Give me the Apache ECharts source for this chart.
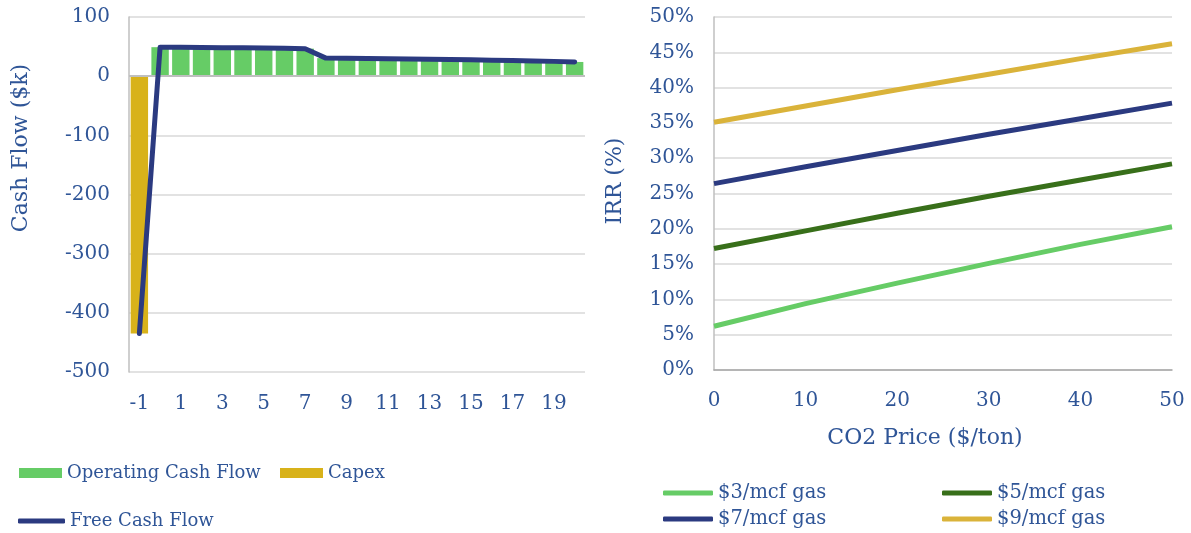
<!DOCTYPE html>
<html>
<head>
<meta charset="utf-8">
<script src="https://cdn.jsdelivr.net/npm/echarts@6/dist/echarts.min.js"></script>
<style>
  html, body { margin: 0; padding: 0; background: #ffffff; }
  #chart { width: 1191px; height: 533px; }
</style>
</head>
<body>
<div id="chart"></div>
<script>
// ---- Project cash flow by year ($k) ----
const years = ['-1','0','1','2','3','4','5','6','7','8','9','10','11','12','13','14','15','16','17','18','19','20'];
const operatingCashFlow = [null, 49, 48.8, 48.5, 48.2, 48, 47.7, 47.3, 46.5, 30.5, 30.2, 30, 29.5, 29, 28.5, 28, 27.6, 27, 26.5, 25.8, 25, 24];
const capex = [-435, null, null, null, null, null, null, null, null, null, null, null, null, null, null, null, null, null, null, null, null, null];
const freeCashFlow = [-435, 49, 48.8, 48.5, 48.2, 48, 47.7, 47.3, 46.5, 30.5, 30.2, 30, 29.5, 29, 28.5, 28, 27.6, 27, 26.5, 25.8, 25, 24];

// ---- IRR (%) against CO2 price ($/ton), one line per gas price ----
const co2Prices = [0, 10, 20, 30, 40, 50];
const irrGas3 = [6.2, 9.4, 12.3, 15.1, 17.8, 20.3];
const irrGas5 = [17.2, 19.7, 22.2, 24.6, 26.9, 29.2];
const irrGas7 = [26.4, 28.8, 31.1, 33.4, 35.6, 37.8];
const irrGas9 = [35.1, 37.4, 39.7, 41.9, 44.1, 46.2];

const TEXT = '#2f5597';
const FONT = 'DejaVu Serif';
const GRID = '#d9d9d9';
const TICK_SIZE = 20;
const TITLE_FONT = '22px "DejaVu Serif"';

const pairs = (xs, ys) => xs.map((x, i) => [x, ys[i]]);

const chart = echarts.init(document.getElementById('chart'), null, { renderer: 'canvas' });

const leftLegendText = { color: TEXT, fontFamily: FONT, fontSize: 18 };
const rightLegendText = { color: TEXT, fontFamily: FONT, fontSize: 19.5 };

chart.setOption({
  backgroundColor: '#ffffff',
  animation: false,
  textStyle: { fontFamily: FONT, color: TEXT },
  grid: [
    { left: 129, top: 17, width: 456, height: 355 },
    { left: 714, top: 17, width: 458, height: 353 }
  ],
  xAxis: [
    {
      gridIndex: 0,
      type: 'category',
      data: years,
      axisLine: { show: false },
      axisTick: { show: false },
      axisLabel: { interval: 1, color: TEXT, fontFamily: FONT, fontSize: TICK_SIZE, margin: 22 }
    },
    {
      gridIndex: 1,
      type: 'value',
      min: 0, max: 50, interval: 10,
      axisLine: { show: true, lineStyle: { color: '#a6a6a6', width: 1.5 } },
      axisTick: { show: false },
      splitLine: { show: false },
      axisLabel: { color: TEXT, fontFamily: FONT, fontSize: TICK_SIZE, margin: 21 }
    }
  ],
  yAxis: [
    {
      gridIndex: 0,
      type: 'value',
      min: -500, max: 100, interval: 100,
      axisLine: { show: true, lineStyle: { color: '#bfbfbf', width: 1.5 } },
      axisTick: { show: false },
      splitLine: { lineStyle: { color: GRID, width: 1.5 } },
      axisLabel: { color: TEXT, fontFamily: FONT, fontSize: TICK_SIZE, margin: 19 }
    },
    {
      gridIndex: 1,
      type: 'value',
      min: 0, max: 50, interval: 5,
      axisLine: { show: true, lineStyle: { color: '#bfbfbf', width: 1.5 } },
      axisTick: { show: false },
      splitLine: { lineStyle: { color: GRID, width: 1.5 } },
      axisLabel: { color: TEXT, fontFamily: FONT, fontSize: TICK_SIZE, margin: 20, formatter: '{value}%' }
    }
  ],
  legend: [
    { left: 19, top: 464, padding: 0, itemWidth: 43, itemHeight: 10, itemGap: 0, icon: 'rect', data: ['Operating Cash Flow'], textStyle: leftLegendText },
    { left: 280, top: 464, padding: 0, itemWidth: 43, itemHeight: 10, itemGap: 0, icon: 'rect', data: ['Capex'], textStyle: leftLegendText },
    { left: 18, top: 512, padding: 0, itemWidth: 47, itemHeight: 5, itemGap: 0, icon: 'roundRect', data: ['Free Cash Flow'], textStyle: leftLegendText },
    { left: 663, top: 483, padding: 0, itemWidth: 50, itemHeight: 5, itemGap: 0, icon: 'roundRect', data: ['$3/mcf gas'], textStyle: rightLegendText },
    { left: 942, top: 483, padding: 0, itemWidth: 50, itemHeight: 5, itemGap: 0, icon: 'roundRect', data: ['$5/mcf gas'], textStyle: rightLegendText },
    { left: 663, top: 509, padding: 0, itemWidth: 50, itemHeight: 5, itemGap: 0, icon: 'roundRect', data: ['$7/mcf gas'], textStyle: rightLegendText },
    { left: 942, top: 509, padding: 0, itemWidth: 50, itemHeight: 5, itemGap: 0, icon: 'roundRect', data: ['$9/mcf gas'], textStyle: rightLegendText }
  ],
  graphic: [
    { type: 'text', x: 21, y: 148, rotation: Math.PI / 2,
      style: { text: 'Cash Flow ($k)', fill: TEXT, font: TITLE_FONT, align: 'center', verticalAlign: 'middle' } },
    { type: 'text', x: 615, y: 181, rotation: Math.PI / 2,
      style: { text: 'IRR (%)', fill: TEXT, font: TITLE_FONT, align: 'center', verticalAlign: 'middle' } },
    { type: 'text', x: 925, y: 438,
      style: { text: 'CO2 Price ($/ton)', fill: TEXT, font: TITLE_FONT, align: 'center', verticalAlign: 'middle' } }
  ],
  series: [
    {
      name: 'Operating Cash Flow', type: 'bar', xAxisIndex: 0, yAxisIndex: 0,
      stack: 'cf', data: operatingCashFlow, barCategoryGap: '16%',
      itemStyle: { color: '#66cc66' },
      markLine: {
        silent: true, symbol: 'none', label: { show: false },
        lineStyle: { color: '#bfbfbf', width: 2, type: 'solid' },
        data: [{ yAxis: 0 }]
      }
    },
    {
      name: 'Capex', type: 'bar', xAxisIndex: 0, yAxisIndex: 0,
      stack: 'cf', data: capex, barCategoryGap: '16%',
      itemStyle: { color: '#d8b21a' }
    },
    {
      name: 'Free Cash Flow', type: 'line', xAxisIndex: 0, yAxisIndex: 0,
      data: freeCashFlow, symbol: 'none', z: 5,
      lineStyle: { color: '#2b3a80', width: 5, cap: 'round', join: 'round' },
      itemStyle: { color: '#2b3a80' }
    },
    {
      name: '$3/mcf gas', type: 'line', xAxisIndex: 1, yAxisIndex: 1,
      data: pairs(co2Prices, irrGas3), symbol: 'none',
      lineStyle: { color: '#66cc66', width: 5 }, itemStyle: { color: '#66cc66' }
    },
    {
      name: '$5/mcf gas', type: 'line', xAxisIndex: 1, yAxisIndex: 1,
      data: pairs(co2Prices, irrGas5), symbol: 'none',
      lineStyle: { color: '#386f1a', width: 5 }, itemStyle: { color: '#386f1a' }
    },
    {
      name: '$7/mcf gas', type: 'line', xAxisIndex: 1, yAxisIndex: 1,
      data: pairs(co2Prices, irrGas7), symbol: 'none',
      lineStyle: { color: '#2b3a80', width: 5 }, itemStyle: { color: '#2b3a80' }
    },
    {
      name: '$9/mcf gas', type: 'line', xAxisIndex: 1, yAxisIndex: 1,
      data: pairs(co2Prices, irrGas9), symbol: 'none',
      lineStyle: { color: '#dab33a', width: 5 }, itemStyle: { color: '#dab33a' }
    }
  ]
});
</script>
</body>
</html>
